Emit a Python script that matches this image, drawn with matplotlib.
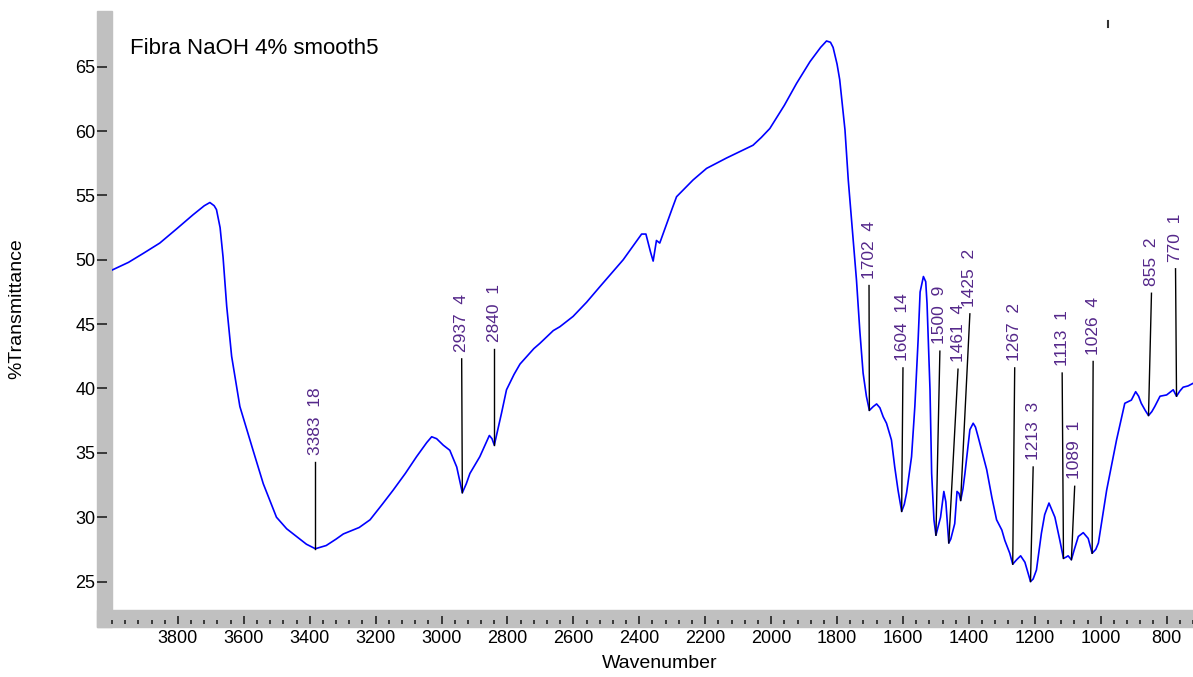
import numpy as np
import matplotlib
matplotlib.use("Agg")
import matplotlib.pyplot as plt
from matplotlib.patches import Rectangle
from matplotlib.lines import Line2D
from matplotlib.ticker import MultipleLocator

plt.rcParams['font.family'] = ['Liberation Sans', 'DejaVu Sans']

# espectro (numero de onda, %T)
wavenumber = [4000, 3950, 3905, 3855, 3804, 3754, 3720, 3703, 3690, 3683, 3672, 3663,
              3652, 3637, 3612, 3572, 3541, 3501, 3470, 3440, 3410, 3383, 3350, 3320,
              3298, 3250, 3217, 3180, 3147, 3110, 3076, 3045, 3030, 3015, 2995, 2975,
              2954, 2937, 2925, 2914, 2884, 2855, 2847, 2840, 2832, 2818, 2803, 2780,
              2762, 2720, 2702, 2661, 2641, 2601, 2560, 2520, 2449, 2410, 2393, 2380,
              2366, 2358, 2348, 2338, 2317, 2300, 2287, 2260, 2237, 2196, 2136, 2055,
              2030, 2004, 1960, 1923, 1882, 1850, 1832, 1820, 1812, 1800, 1792, 1776,
              1766, 1751, 1741, 1731, 1721, 1711, 1702, 1690, 1680, 1670, 1660, 1650,
              1635, 1625, 1615, 1604, 1596, 1589, 1574, 1564, 1554, 1548, 1538, 1531,
              1527, 1518, 1513, 1506, 1500, 1486, 1476, 1470, 1461, 1455, 1443, 1436,
              1430, 1425, 1418, 1412, 1397, 1387, 1380, 1372, 1346, 1330, 1316, 1300,
              1291, 1276, 1267, 1255, 1243, 1230, 1220, 1213, 1205, 1195, 1180, 1170,
              1157, 1139, 1124, 1113, 1105, 1099, 1089, 1080, 1068, 1053, 1038, 1026,
              1015, 1007, 982, 952, 927, 907, 894, 885, 877, 865, 855, 845,
              836, 820, 800, 780, 770, 760, 750, 735, 720]
transmittance = [49.2, 49.8, 50.5, 51.3, 52.4, 53.5, 54.2, 54.45, 54.2, 53.9, 52.5, 50.2,
                 46.4, 42.5, 38.6, 35.2, 32.6, 30.0, 29.1, 28.5, 27.9, 27.55, 27.8, 28.3,
                 28.7, 29.2, 29.8, 31.0, 32.1, 33.4, 34.7, 35.8, 36.25, 36.1, 35.6, 35.2,
                 33.9, 31.9, 32.6, 33.4, 34.7, 36.35, 36.1, 35.6, 36.5, 38.1, 39.9, 41.1,
                 41.9, 43.1, 43.5, 44.5, 44.8, 45.6, 46.7, 47.9, 50.0, 51.4, 52.0, 52.0,
                 50.6, 49.9, 51.5, 51.3, 52.8, 54.0, 54.9, 55.6, 56.2, 57.1, 57.9, 58.9,
                 59.5, 60.2, 62.0, 63.7, 65.4, 66.5, 67.0, 66.9, 66.5, 65.2, 64.0, 60.1,
                 56.2, 51.5, 48.4, 44.5, 41.2, 39.4, 38.3, 38.6, 38.8, 38.5, 37.8, 37.3,
                 36.0, 33.9, 32.1, 30.45, 31.0, 31.9, 34.7, 38.6, 43.8, 47.5, 48.7, 48.3,
                 46.6, 39.9, 33.4, 29.8, 28.6, 30.0, 32.0, 31.2, 28.0, 28.3, 29.5, 32.0,
                 31.85, 31.3, 32.2, 33.4, 36.8, 37.3, 37.0, 36.25, 33.7, 31.5, 29.8, 29.0,
                 28.2, 27.2, 26.35, 26.7, 27.0, 26.5, 25.6, 25.0, 25.2, 25.9, 28.75, 30.2,
                 31.1, 30.0, 28.2, 26.8, 26.9, 27.0, 26.7, 27.5, 28.5, 28.8, 28.35, 27.2,
                 27.5, 28.0, 32.1, 36.0, 38.85, 39.1, 39.75, 39.4, 38.85, 38.3, 37.9, 38.2,
                 38.6, 39.4, 39.5, 39.9, 39.4, 39.8, 40.1, 40.2, 40.4]

# picos marcados
peak_labels = ["3383  18", "2937  4", "2840  1", "1702  4", "1604  14", "1500  9",
               "1461  4", "1425  2", "1267  2", "1213  3", "1113  1", "1089  1",
               "1026  4", "855  2", "770  1"]
peak_wn = [3383, 2937, 2840, 1702, 1604, 1500, 1461, 1425, 1267, 1213, 1113, 1089,
           1026, 855, 770]
peak_t = [27.55, 31.9, 35.6, 38.3, 30.45, 28.6, 28.0, 31.3, 26.35, 25.0, 26.8, 26.7,
          27.2, 37.9, 39.4]
label_wn = [3383, 2939, 2840, 1703, 1600, 1488, 1433, 1397, 1261, 1205, 1117, 1079,
            1023, 846, 773]
label_t = [34.3, 42.3, 43.1, 48.0, 41.6, 42.9, 41.5, 45.8, 41.6, 33.9, 41.2, 32.4,
           42.1, 47.4, 49.3]

W, H = 1193, 677
PT = 72 / 100  # pixels -> pontos
fig = plt.figure(figsize=(W / 100, H / 100), dpi=100)
ax = fig.add_axes([112 / W, 1 - 610 / H, (W - 112) / W, (610 - 11) / H])

# barras cinzas dos eixos (atras dos ticks)
fig.patches.append(Rectangle((97 / W, 1 - 627 / H), 15 / W, 616 / H,
                             transform=fig.transFigure, color='#c0c0c0', zorder=-5))
fig.patches.append(Rectangle((97 / W, 1 - 627 / H), (W - 97) / W, 17 / H,
                             transform=fig.transFigure, color='#c0c0c0', zorder=-5))
fig.add_artist(Line2D([1108 / W, 1108 / W], [1 - 21 / H, 1 - 27 / H], color='#333333', lw=1.5))

ax.plot(wavenumber, transmittance, color='#0000ff', lw=1.2)

for lab, pw, pt, lw_, lt in zip(peak_labels, peak_wn, peak_t, label_wn, label_t):
    ax.plot([pw, lw_], [pt, lt], color='black', lw=1.0)
    ax.annotate(lab, (lw_, lt), xytext=(0, 5), textcoords='offset points',
                rotation=90, ha='center', va='bottom', fontsize=12.5, color='#55288a')

ax.set_xlim(4000, 720)
ax.set_ylim(22.79, 69.33)
ax.patch.set_alpha(0)
for s in ['top', 'right']:
    ax.spines[s].set_visible(False)
ax.spines['left'].set_position(('outward', 15 * PT))
ax.spines['bottom'].set_position(('outward', 14 * PT))
ax.spines['left'].set_visible(False)
ax.spines['bottom'].set_visible(False)

ax.xaxis.set_major_locator(MultipleLocator(200))
ax.xaxis.set_minor_locator(MultipleLocator(40))
ax.set_xticks(np.arange(3800, 700, -200))
ax.set_yticks(np.arange(25, 70, 5))
ax.tick_params(axis='x', which='major', direction='in', length=8 * PT, width=1.2,
               pad=6 * PT, labelsize=13, color='#222222')
ax.tick_params(axis='x', which='minor', direction='in', length=4 * PT, width=1.2, color='#222222')
ax.tick_params(axis='y', which='major', direction='in', length=10 * PT, width=1.2,
               pad=1, labelsize=13, color='#222222')

ax.text(0.017, 0.955, "Fibra NaOH 4% smooth5", transform=ax.transAxes, fontsize=16,
        ha='left', va='top')
fig.text(17 / W, 1 - 309 / H, "%Transmittance", rotation=90, ha='center', va='center',
         fontsize=14)
fig.text(660 / W, 1 - 663 / H, "Wavenumber", ha='center', va='center', fontsize=14)

fig.savefig("out.png", dpi=100)
